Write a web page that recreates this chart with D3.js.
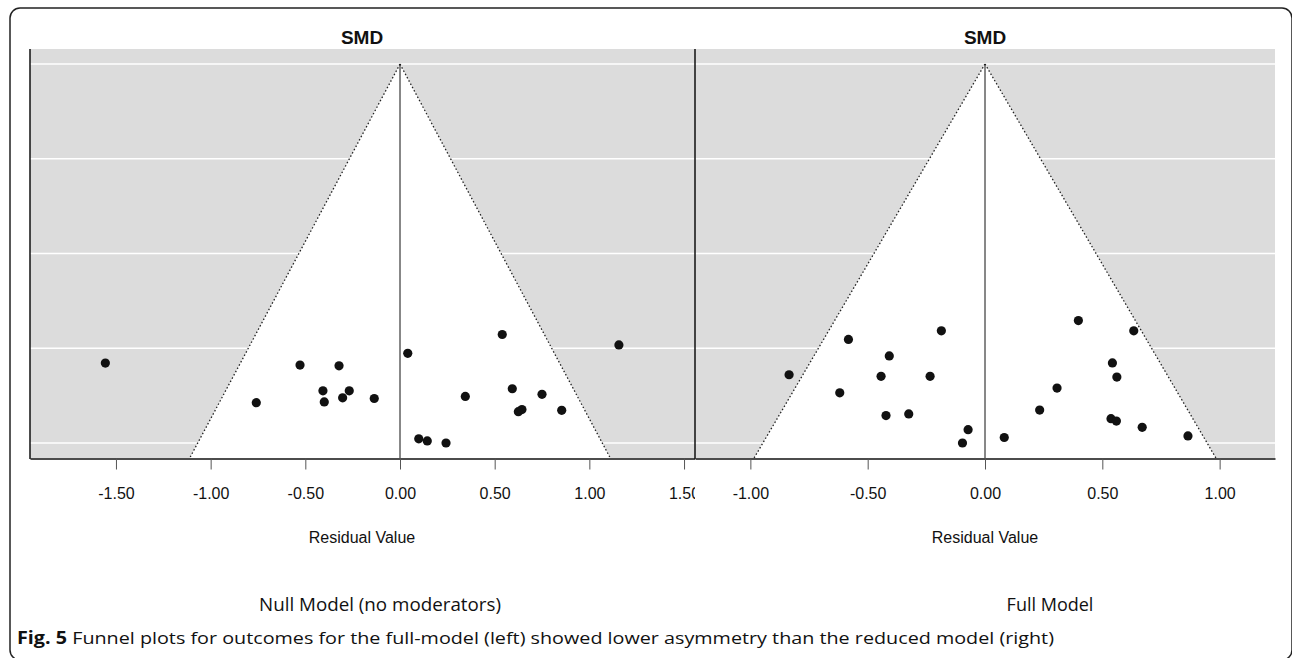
<!DOCTYPE html>
<html>
<head>
<meta charset="utf-8">
<script src="https://cdn.jsdelivr.net/npm/d3@7"></script>
<style>
  body { margin: 0; background: #fff; }
  svg { display: block; }
  .tick text { font-family: "Liberation Sans", Arial, sans-serif; font-size: 16px; fill: #111; }
</style>
</head>
<body>
<div id="vis"></div>
<script>
// Funnel plots — null model (left) vs full model (right)

var panelTitles = ['SMD', 'SMD'];
var panelNames  = ['Null Model (no moderators)', 'Full Model'];
var xLabel      = 'Residual Value';
var caption     = ['Fig. 5', ' Funnel plots for outcomes for the full-model (left) showed lower asymmetry than the reduced model (right)'];

var nullTicks = [-1.5, -1.0, -0.5, 0.0, 0.5, 1.0, 1.5];
var fullTicks = [-1.0, -0.5, 0.0, 0.5, 1.0];

// residuals and standard errors
var nullResid = [-1.556, -0.759, -0.528, -0.407, -0.400, -0.322, -0.303, -0.268, -0.136, 0.041, 0.099,
                 0.144, 0.243, 0.345, 0.540, 0.593, 0.625, 0.644, 0.750, 0.854, 1.156];
var nullSE    = [0.430, 0.487, 0.433, 0.470, 0.486, 0.434, 0.480, 0.470, 0.481, 0.416, 0.539,
                 0.542, 0.545, 0.478, 0.389, 0.467, 0.500, 0.497, 0.475, 0.498, 0.404];
var nullMaxSE = 0.545;
var nullXMax  = 1.954;

var fullResid = [-0.835, -0.619, -0.582, -0.443, -0.422, -0.408, -0.325, -0.234, -0.186, -0.072, -0.096,
                 0.082, 0.233, 0.307, 0.398, 0.537, 0.543, 0.560, 0.562, 0.634, 0.670, 0.865];
var fullSE    = [0.396, 0.419, 0.351, 0.398, 0.448, 0.372, 0.446, 0.398, 0.340, 0.466, 0.483,
                 0.476, 0.441, 0.413, 0.327, 0.452, 0.381, 0.455, 0.399, 0.340, 0.463, 0.474];
var fullMaxSE = 0.483;
var fullXMax  = 1.236;

var seSteps = 5;   // gridlines from 0 to max SE

var W = 1292, H = 658;
var plotTop = 49, plotBottom = 458;

var svg = d3.select('#vis').append('svg')
  .attr('width', W).attr('height', H);

// outer frame (bottom edge runs just off the page)
svg.append('rect')
  .attr('x', 10).attr('y', 8)
  .attr('width', 1282).attr('height', 652)
  .attr('rx', 10)
  .attr('fill', 'none')
  .attr('stroke', '#222')
  .attr('stroke-width', 1.5);

svg.append('clipPath').attr('id', 'clipLeft')
  .append('rect').attr('x', 0).attr('y', 0).attr('width', 695).attr('height', H);

var panels = [
  { resid: nullResid, se: nullSE, maxSE: nullMaxSE, xMax: nullXMax, ticks: nullTicks,
    x0: 30, x1: 770, labelX: 362, nameX: 380, nameLen: 242, clip: 'url(#clipLeft)' },
  { resid: fullResid, se: fullSE, maxSE: fullMaxSE, xMax: fullXMax, ticks: fullTicks,
    x0: 695, x1: 1275, labelX: 985, nameX: 1050, nameLen: null, clip: null }
];

panels.forEach(function(p, i) {
  var x = d3.scaleLinear().domain([-p.xMax, p.xMax]).range([p.x0, p.x1]);
  var y = d3.scaleLinear().domain([0, p.maxSE]).range([64, 443]);
  var yBot = y.invert(plotBottom);

  var g = svg.append('g');
  if (p.clip) g.attr('clip-path', p.clip);

  // gray background
  g.append('rect')
    .attr('x', p.x0).attr('y', plotTop)
    .attr('width', p.x1 - p.x0).attr('height', plotBottom - plotTop)
    .attr('fill', '#dcdcdc');

  // gridlines
  var grid = d3.range(seSteps).map(function(k) { return p.maxSE * k / (seSteps - 1); });
  g.selectAll('.grid').data(grid).join('line')
    .attr('x1', p.x0).attr('x2', p.x1)
    .attr('y1', function(d) { return y(d); })
    .attr('y2', function(d) { return y(d); })
    .attr('stroke', '#fff')
    .attr('stroke-width', 1.5);

  // funnel region
  var funnel = [[0, 0], [-1.96 * yBot, yBot], [1.96 * yBot, yBot]];
  g.append('path')
    .attr('d', 'M' + funnel.map(function(d) { return x(d[0]) + ',' + y(d[1]); }).join('L') + 'Z')
    .attr('fill', '#fff');

  [-1, 1].forEach(function(s) {
    g.append('line')
      .attr('x1', x(0)).attr('y1', y(0))
      .attr('x2', x(s * 1.96 * yBot)).attr('y2', y(yBot))
      .attr('stroke', '#222')
      .attr('stroke-width', 1.3)
      .attr('stroke-dasharray', '1.5,2.2');
  });

  g.append('line')
    .attr('x1', x(0)).attr('x2', x(0))
    .attr('y1', y(0)).attr('y2', plotBottom)
    .attr('stroke', '#111').attr('stroke-width', 1);

  // points
  g.selectAll('.pt').data(p.resid).join('circle')
    .attr('cx', function(d) { return x(d); })
    .attr('cy', function(d, k) { return y(p.se[k]); })
    .attr('r', 4.6)
    .attr('fill', '#111');

  // x axis
  var ax = g.append('g')
    .attr('transform', 'translate(0,' + (plotBottom + 0.5) + ')')
    .call(d3.axisBottom(x).tickValues(p.ticks)
      .tickFormat(function(d) { return d.toFixed(2); })
      .tickSize(11).tickSizeOuter(0).tickPadding(18));
  ax.select('.domain').attr('stroke', '#111').attr('stroke-width', 1.5);
  ax.selectAll('.tick line').attr('stroke', '#555');

  // left spine
  g.append('line')
    .attr('x1', p.x0).attr('x2', p.x0)
    .attr('y1', plotTop).attr('y2', plotBottom + 1)
    .attr('stroke', '#111').attr('stroke-width', 1.5);

  // titles
  svg.append('text')
    .attr('x', p.labelX).attr('y', 44)
    .attr('text-anchor', 'middle')
    .attr('font-family', '"Liberation Sans", Arial, sans-serif')
    .attr('font-weight', 'bold')
    .attr('font-size', 19)
    .attr('fill', '#111')
    .text(panelTitles[i]);

  svg.append('text')
    .attr('x', p.labelX).attr('y', 543)
    .attr('text-anchor', 'middle')
    .attr('font-family', '"Liberation Sans", Arial, sans-serif')
    .attr('font-size', 16)
    .attr('fill', '#111')
    .text(xLabel);

  var name = svg.append('text')
    .attr('x', p.nameX).attr('y', 611)
    .attr('text-anchor', 'middle')
    .attr('font-family', '"Open Sans", "Noto Sans", sans-serif')
    .attr('font-size', 18)
    .attr('fill', '#111')
    .text(panelNames[i]);
  if (p.nameLen) name.attr('textLength', p.nameLen).attr('lengthAdjust', 'spacingAndGlyphs');
});

// caption
var cap = svg.append('text')
  .attr('x', 17).attr('y', 644)
  .attr('font-family', '"Open Sans", "Noto Sans", sans-serif')
  .attr('font-size', 17)
  .attr('fill', '#111')
  .attr('textLength', 1037)
  .attr('lengthAdjust', 'spacingAndGlyphs');
cap.append('tspan').attr('font-weight', 'bold').text(caption[0]);
cap.append('tspan').text(caption[1]);
</script>
</body>
</html>
